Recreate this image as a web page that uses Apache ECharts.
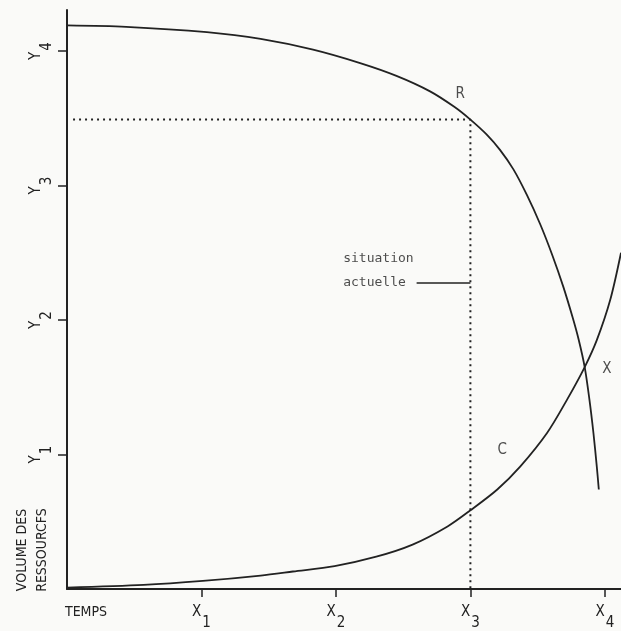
<!DOCTYPE html>
<html>
<head>
<meta charset="utf-8">
<script src="https://cdn.jsdelivr.net/npm/echarts@6/dist/echarts.min.js"></script>
<style>
html, body { margin: 0; padding: 0; background: #fafaf8; }
#main { width: 621px; height: 631px; }
</style>
</head>
<body>
<div id="main"></div>
<script>
// axes ticks
const xTickValues = [0, 1, 2, 3, 4];
const xTickLabels = ['TEMPS', 'X1', 'X2', 'X3', 'X4'];
const yTickValues = [1, 2, 3, 4];
const yTickLabels = ['Y1', 'Y2', 'Y3', 'Y4'];

// courbe R : volume des ressources
const resX = [0, 0.44, 1.04, 1.44, 1.83, 2.18, 2.45, 2.70, 2.88, 3.00, 3.12, 3.22, 3.32, 3.42, 3.52, 3.61, 3.69, 3.76, 3.805, 3.85, 3.885, 3.915, 3.94, 3.955];
const resY = [4.19, 4.18, 4.14, 4.09, 4.01, 3.91, 3.815, 3.70, 3.585, 3.49, 3.38, 3.265, 3.12, 2.93, 2.71, 2.48, 2.25, 2.02, 1.855, 1.65, 1.41, 1.16, 0.91, 0.74];

// courbe C
const conX = [0, 0.57, 1.01, 1.44, 1.68, 1.99, 2.30, 2.57, 2.83, 3.00, 3.20, 3.37, 3.57, 3.72, 3.85, 3.94, 4.04, 4.12];
const conY = [0.01, 0.03, 0.06, 0.10, 0.13, 0.17, 0.24, 0.33, 0.465, 0.585, 0.74, 0.91, 1.16, 1.41, 1.65, 1.85, 2.15, 2.50];

// situation actuelle (pointillés)
const nowX = [0.045, 3.0, 3.0];
const nowY = [3.49, 3.49, 0];

const capsFont = '"Liberation Sans Narrow", "DejaVu Sans Condensed", "DejaVu Sans Mono", sans-serif';
const monoFont = '"DejaVu Sans Mono", "Liberation Mono", monospace';
const ink = '#222';

const zip = (xs, ys) => xs.map((x, i) => [x, ys[i]]);

const subLabel = (l) => l.length === 2 ? '{n|' + l[0] + '}{s|' + l[1] + '}' : '{t|' + l + '}';

const labelRich = {
    n: { fontFamily: capsFont, fontSize: 15, color: ink, padding: [0, 0, 11, 0] },
    s: { fontFamily: capsFont, fontSize: 15, color: ink, padding: [11, 0, 0, 1] },
    t: { fontFamily: capsFont, fontSize: 14, color: ink, padding: [0, 0, 0, 38] }
};

const axisLine = {
    show: true,
    lineStyle: { color: ink, width: 2 }
};

const option = {
    animation: false,
    backgroundColor: '#fafaf8',
    grid: { left: 67, right: 0, top: 10, bottom: 42 },
    xAxis: {
        type: 'value',
        min: 0,
        max: 4.12,
        interval: 1,
        axisLine: axisLine,
        splitLine: { show: false },
        axisTick: { show: true, length: 8, customValues: xTickValues.slice(1), lineStyle: { color: ink, width: 1.5 } },
        axisLabel: {
            customValues: xTickValues,
            margin: 16,
            formatter: (v) => subLabel(xTickLabels[xTickValues.indexOf(v)] || ''),
            rich: labelRich
        }
    },
    yAxis: {
        type: 'value',
        min: 0,
        max: 4.305,
        interval: 1,
        axisLine: axisLine,
        splitLine: { show: false },
        axisTick: { show: true, length: 9, customValues: yTickValues, lineStyle: { color: ink, width: 1.5 } },
        axisLabel: {
            customValues: yTickValues,
            rotate: 90,
            margin: 12,
            formatter: (v) => subLabel(yTickLabels[yTickValues.indexOf(v)] || ''),
            rich: labelRich
        }
    },
    graphic: [{
        type: 'text',
        x: 32,
        y: 550,
        rotation: Math.PI / 2,
        style: {
            text: 'VOLUME DES\nRESSOURCFS',
            fontFamily: capsFont,
            fontSize: 14,
            lineHeight: 20,
            fill: ink,
            align: 'center',
            verticalAlign: 'middle'
        }
    }],
    series: [
        {
            type: 'line',
            data: zip(resX, resY),
            smooth: 0.3,
            symbol: 'none',
            lineStyle: { color: ink, width: 1.8 }
        },
        {
            type: 'line',
            data: zip(conX, conY),
            smooth: 0.3,
            symbol: 'none',
            lineStyle: { color: ink, width: 1.8 }
        },
        {
            type: 'line',
            data: zip(nowX, nowY),
            symbol: 'none',
            lineStyle: { color: ink, width: 2, type: [2, 4] }
        },
        {
            type: 'line',
            data: [[2.60, 2.275], [3.0, 2.275]],
            symbol: 'none',
            lineStyle: { color: ink, width: 1.5 }
        },
        {
            type: 'scatter',
            symbolSize: 0,
            label: {
                show: true,
                position: 'inside',
                formatter: '{b}',
                fontFamily: capsFont,
                fontSize: 15,
                color: ink
            },
            data: [
                { name: 'R', value: [2.924, 3.68] },
                { name: 'C', value: [3.237, 1.033] },
                { name: 'X', value: [4.014, 1.636] },
                {
                    name: 'situation\nactuelle',
                    value: [2.054, 2.364],
                    label: {
                        position: 'right',
                        distance: 0,
                        align: 'left',
                        fontFamily: monoFont,
                        fontSize: 13,
                        lineHeight: 24,
                        color: ink
                    }
                }
            ]
        }
    ]
};

const chart = echarts.init(document.getElementById('main'));
chart.setOption(option);
</script>
</body>
</html>
